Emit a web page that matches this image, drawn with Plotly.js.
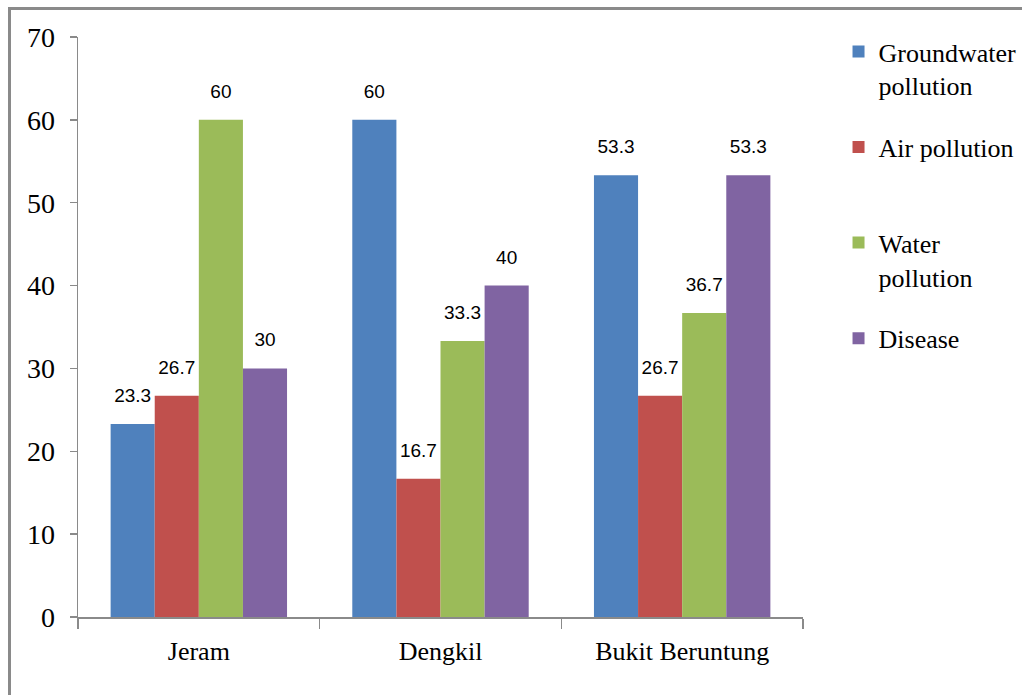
<!DOCTYPE html>
<html>
<head>
<meta charset="utf-8">
<script src="https://cdn.plot.ly/plotly-3.0.1.min.js"></script>
<style>
html,body{margin:0;padding:0;background:#fff;}
#wrap{position:relative;width:1022px;height:695px;}
#chart{width:1022px;height:695px;}
#frame{position:absolute;left:8px;top:7px;right:-10px;bottom:-10px;border-left:3px solid #8a8a8a;border-top:3px solid #8a8a8a;pointer-events:none;}
</style>
</head>
<body>
<div id="wrap"><div id="chart"></div><div id="frame"></div></div>
<script>
const categories = ["Jeram", "Dengkil", "Bukit Beruntung"];
const seriesNames = ["Groundwater<br>pollution", "Air pollution<br>&nbsp;", "Water<br>pollution", "Disease"];
const groundwater = [23.3, 60, 53.3];
const airPollution = [26.7, 16.7, 26.7];
const waterPollution = [60, 33.3, 36.7];
const disease = [30, 40, 53.3];
const colors = ["#4F81BD", "#C0504D", "#9BBB59", "#8064A2"];
const yTicks = [0, 10, 20, 30, 40, 50, 60, 70];

const allSeries = [groundwater, airPollution, waterPollution, disease];
const traces = [];
allSeries.forEach((vals, i) => {
  traces.push({
    type: "bar", x: categories, y: vals, name: seriesNames[i],
    marker: {color: colors[i]}, legendgroup: "g" + i,
    offsetgroup: "s" + i, hoverinfo: "skip"
  });
});
allSeries.forEach((vals, i) => {
  traces.push({
    type: "scatter", mode: "markers+text", x: categories, y: vals,
    text: vals.map(v => String(v)), textposition: "top center",
    textfont: {family: "Liberation Sans", size: 19, color: "#000"},
    marker: {size: 26, opacity: 0, color: colors[i]},
    offsetgroup: "s" + i, showlegend: false, hoverinfo: "skip", cliponaxis: false
  });
});

const serif = "Liberation Serif";
const layout = {
  width: 1022, height: 695,
  margin: {l: 78, r: 219, t: 37, b: 78, autoexpand: false},
  paper_bgcolor: "#fff", plot_bgcolor: "#fff",
  barmode: "group", bargap: 0.27, bargroupgap: 0,
  scattermode: "group", scattergap: 0.27,
  font: {family: serif, size: 26, color: "#000"},
  xaxis: {
    type: "category", showline: true, linecolor: "#8a8a8a", linewidth: 1.5,
    ticks: "outside", tickson: "boundaries", ticklen: 10, tickcolor: "#8a8a8a", tickwidth: 1.5,
    showgrid: false, zeroline: false,
    tickfont: {family: serif, size: 26, color: "#000"},
    ticklabelstandoff: 10
  },
  yaxis: {
    range: [0, 70], tickvals: yTicks, showline: true, linecolor: "#8a8a8a", linewidth: 1.5,
    ticks: "outside", ticklen: 7, tickcolor: "#8a8a8a", tickwidth: 1.5,
    showgrid: false, zeroline: false,
    tickfont: {family: serif, size: 28, color: "#000"},
    ticklabelstandoff: 9
  },
  legend: {
    x: 1.049, y: 1.0155, xanchor: "left", yanchor: "top",
    valign: "top", tracegroupgap: 25,
    font: {family: serif, size: 26, color: "#000"},
    bgcolor: "rgba(0,0,0,0)", itemwidth: 30
  },
  showlegend: true
};

Plotly.newPlot("chart", traces, layout, {displayModeBar: false, staticPlot: true});
</script>
</body>
</html>
